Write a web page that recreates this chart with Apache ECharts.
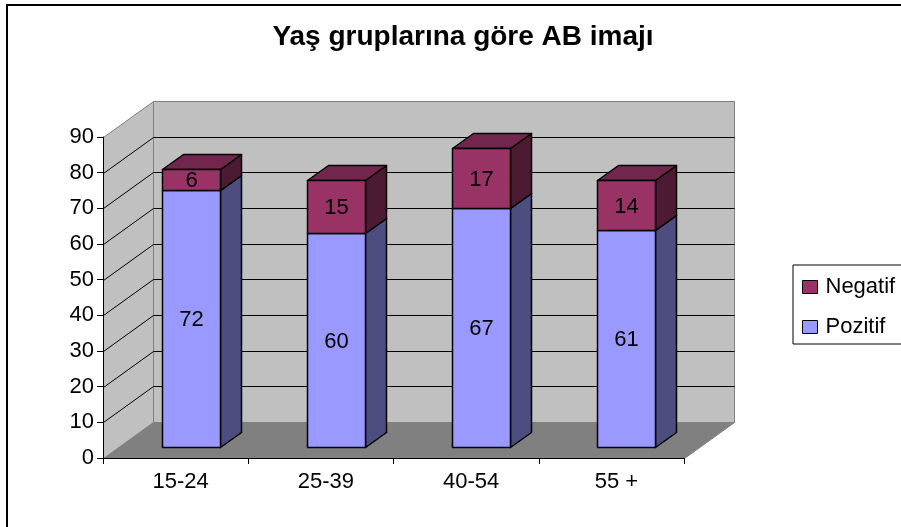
<!DOCTYPE html>
<html lang="tr">
<head>
<meta charset="UTF-8">
<title>Yaş gruplarına göre AB imajı</title>
<script src="https://cdn.jsdelivr.net/npm/echarts@6/dist/echarts.min.js"></script>
<style>
    body { margin: 0; background: #fff; }
    #chart { width: 901px; height: 527px; }
</style>
</head>
<body>
<div id="chart"></div>
<script>
    // veriler
    const chartTitle = 'Yaş gruplarına göre AB imajı';
    const categories = ['15-24', '25-39', '40-54', '55 +'];
    const pozitif = [72, 60, 67, 61];
    const negatif = [6, 15, 17, 14];
    const legendNames = ['Negatif', 'Pozitif'];
    const yMax = 90;
    const yStep = 10;

    const FONT = '"Liberation Sans", Arial, sans-serif';
    // 3B derinlik (ön düzlemden arka duvara kayma)
    const DX = 50, DY = -36;
    const F0 = 0.3, F1 = 0.71;   // çubuğun derinlikteki yeri
    const BAR = 0.4;             // kategori genişliğine oran

    const snap = v => Math.round(v) + 0.5;

    const chart = echarts.init(document.getElementById('chart'));

    function renderWalls(params, api) {
        const cs = params.coordSys;
        const x0 = snap(cs.x), x1 = snap(cs.x + cs.width);
        const y0 = snap(api.coord([0, 0])[1]);
        const yT = snap(api.coord([0, yMax])[1]);
        const children = [];
        // zemin
        children.push({
            type: 'polygon',
            shape: { points: [[x0, y0], [x0 + DX, y0 + DY], [x1 + DX, y0 + DY], [x1, y0]] },
            style: { fill: '#808080', stroke: '#808080', lineWidth: 1 }
        });
        // sol duvar
        children.push({
            type: 'polygon',
            shape: { points: [[x0, y0], [x0, yT], [x0 + DX, yT + DY], [x0 + DX, y0 + DY]] },
            style: { fill: '#c0c0c0', stroke: '#808080', lineWidth: 1 }
        });
        // arka duvar
        children.push({
            type: 'rect',
            shape: { x: x0 + DX, y: yT + DY, width: x1 - x0, height: y0 - yT },
            style: { fill: '#c0c0c0', stroke: '#808080', lineWidth: 1 }
        });
        // ızgara çizgileri
        for (let v = yStep; v < yMax; v += yStep) {
            const y = snap(api.coord([0, v])[1]);
            children.push({
                type: 'line',
                shape: { x1: x0 + DX, y1: y + DY, x2: x1 + DX, y2: y + DY },
                style: { stroke: '#000', lineWidth: 1 }
            });
            children.push({
                type: 'line',
                shape: { x1: x0, y1: y, x2: x0 + DX, y2: y + DY },
                style: { stroke: '#000', lineWidth: 1 }
            });
        }
        return { type: 'group', children: children };
    }

    function makeBarRenderer(front, top, side) {
        return function (params, api) {
            const i = api.value(0), v = api.value(1), b = api.value(2);
            const band = api.size([1, 0])[0];
            const cx = api.coord([i, 0])[0];
            const w = band * BAR;
            const L = snap(cx - w / 2 + F0 * DX);
            const R = snap(cx + w / 2 + F0 * DX);
            const yb = snap(api.coord([i, b])[1] + F0 * DY);
            const yt = snap(api.coord([i, b + v])[1] + F0 * DY);
            const ddx = Math.round((F1 - F0) * DX), ddy = Math.round((F1 - F0) * DY);
            const edge = { stroke: '#000', lineWidth: 1.5, lineJoin: 'round' };
            return {
                type: 'group',
                children: [
                    { type: 'polygon', shape: { points: [[R, yt], [R + ddx, yt + ddy], [R + ddx, yb + ddy], [R, yb]] },
                      style: Object.assign({ fill: side }, edge) },
                    { type: 'polygon', shape: { points: [[L, yt], [L + ddx, yt + ddy], [R + ddx, yt + ddy], [R, yt]] },
                      style: Object.assign({ fill: top }, edge) },
                    { type: 'rect', shape: { x: L, y: yt, width: R - L, height: yb - yt },
                      style: Object.assign({ fill: front }, edge) },
                    { type: 'text',
                      style: { text: String(v), x: (L + R) / 2, y: (yt + yb) / 2 + 1,
                               align: 'center', verticalAlign: 'middle',
                               font: '22px ' + FONT, fill: '#000' } }
                ]
            };
        };
    }

    chart.setOption({
        animation: false,
        backgroundColor: '#fff',
        graphic: [
            { type: 'rect', shape: { x: 7, y: 5, width: 920, height: 540 },
              style: { fill: null, stroke: '#000', lineWidth: 2 }, z: 10 },
            { type: 'text', x: 463, y: 37,
              style: { text: chartTitle, align: 'center', verticalAlign: 'middle',
                       font: 'bold 28px ' + FONT, fill: '#000' } }
        ],
        legend: {
            data: legendNames,
            orient: 'vertical',
            left: 793,
            top: 265,
            padding: [11, 40, 6, 9],
            itemGap: 18,
            itemWidth: 15,
            itemHeight: 13,
            icon: 'rect',
            backgroundColor: '#fff',
            borderColor: '#000',
            borderWidth: 1,
            borderRadius: 0,
            itemStyle: { borderColor: '#000', borderWidth: 1 },
            textStyle: { fontSize: 22, fontFamily: FONT, color: '#000', padding: [0, 0, 0, 3] },
            selectedMode: false
        },
        grid: { left: 103, top: 137, width: 581, height: 321, containLabel: false },
        xAxis: {
            type: 'category',
            data: categories,
            boundaryGap: true,
            z: 5,
            axisLine: { show: true, lineStyle: { color: '#000', width: 1 } },
            axisTick: { show: true, length: 6, lineStyle: { color: '#000' } },
            axisLabel: { fontSize: 22, fontFamily: FONT, color: '#000', margin: 13, padding: [0, 0, 0, 10] },
            splitLine: { show: false }
        },
        yAxis: {
            type: 'value',
            min: 0,
            max: yMax,
            interval: yStep,
            z: 5,
            axisLine: { show: true, lineStyle: { color: '#000', width: 1 } },
            axisTick: { show: true, length: 6, lineStyle: { color: '#000' } },
            axisLabel: { fontSize: 22, fontFamily: FONT, color: '#000', margin: 9 },
            splitLine: { show: false }
        },
        series: [
            {
                type: 'custom',
                name: 'walls',
                silent: true,
                z: 1,
                clip: false,
                data: [[0, 0]],
                renderItem: renderWalls
            },
            {
                type: 'custom',
                name: 'Pozitif',
                z: 2,
                clip: false,
                itemStyle: { color: '#9999ff' },
                data: categories.map((c, i) => [i, pozitif[i], 0]),
                renderItem: makeBarRenderer('#9999ff', '#7373bf', '#4d4d80')
            },
            {
                type: 'custom',
                name: 'Negatif',
                z: 2,
                clip: false,
                itemStyle: { color: '#993366' },
                data: categories.map((c, i) => [i, negatif[i], pozitif[i]]),
                renderItem: makeBarRenderer('#993366', '#73264d', '#4d1a33')
            }
        ]
    });
</script>
</body>
</html>
